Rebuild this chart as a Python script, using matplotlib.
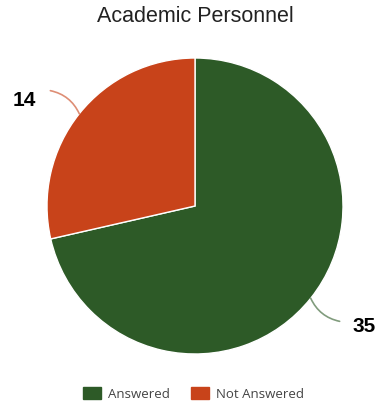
import numpy as np
import matplotlib
matplotlib.use("Agg")
import matplotlib.pyplot as plt
from matplotlib.patches import Rectangle

# data
categories = ["Answered", "Not Answered"]
counts = [35, 14]
colors = ["#2d5a27", "#c8431a"]

W, H = 379, 405
fig = plt.figure(figsize=(W / 100, H / 100), dpi=100)
ax = fig.add_axes([0, 0, 1, 1])

# pie in pixel-like coordinates (y up)
cx, cy, r = 195, H - 206, 148
wedges, _ = ax.pie(counts, colors=colors, startangle=90, counterclock=False,
                   center=(cx, cy), radius=r, frame=True,
                   wedgeprops=dict(edgecolor="white", linewidth=1))
ax.set_xlim(0, W)
ax.set_ylim(0, H)
ax.set_aspect("equal")
ax.axis("off")

# value labels with curved leader lines
for w, val, col in zip(wedges, counts, colors):
    mid = np.deg2rad((w.theta1 + w.theta2) / 2)
    x0, y0 = cx + r * np.cos(mid), cy + r * np.sin(mid)
    x1, y1 = cx + 1.25 * r * np.cos(mid), cy + 1.25 * r * np.sin(mid)
    side = np.sign(np.cos(mid))
    ax.annotate("", xy=(x0, y0), xytext=(x1, y1),
                arrowprops=dict(arrowstyle="-", color=col, alpha=0.6, lw=1.2,
                                connectionstyle="arc3,rad=-0.25",
                                shrinkA=0, shrinkB=0))
    dx = 24 if side > 0 else -26
    dy = -5 if side > 0 else -10
    ax.text(x1 + dx, y1 + dy, str(val), ha="center", va="center",
            fontsize=15, fontweight="bold", family="Liberation Sans", color="black")

fig.text(0.515, 1 - 17 / H, "Academic Personnel", ha="center", va="center",
         fontsize=15.5, family="Liberation Sans", color="#222222")

# legend
leg = ax.legend([Rectangle((0, 0), 1, 1, color=c) for c in colors], categories,
                loc="center", bbox_to_anchor=(0.51, 1 - 394 / H), ncol=2,
                frameon=False, handlelength=1.4, handleheight=1.0,
                columnspacing=1.6, handletextpad=0.5,
                prop=dict(family="Open Sans", size=9.5))
for t in leg.get_texts():
    t.set_color("#444444")

fig.savefig("out.png", dpi=100)
